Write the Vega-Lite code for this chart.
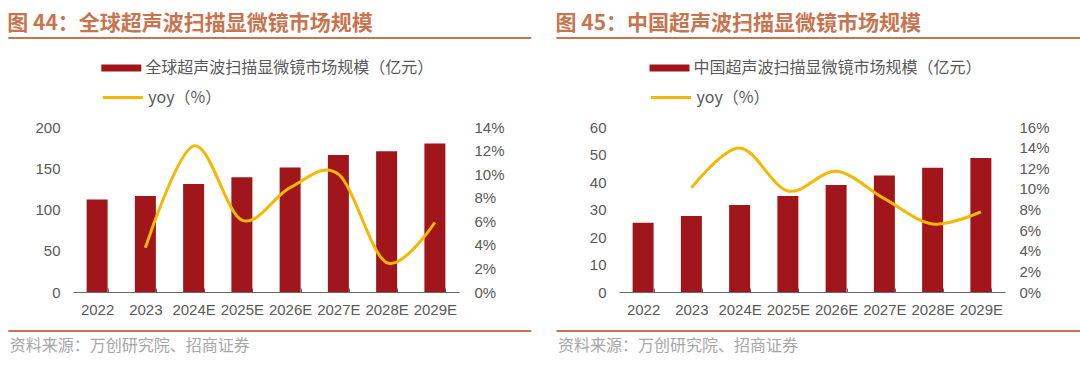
{
  "$schema": "https://vega.github.io/schema/vega-lite/v6.json",
  "background": "white",
  "padding": {"left": 7, "top": 13, "right": 0, "bottom": 8},
  "config": {
    "view": {"stroke": null},
    "axis": {"labelFont": "Liberation Sans", "labelFontSize": 15, "labelColor": "#595959", "grid": false, "title": null},
    "legend": {"labelLimit": 0, "padding": 0},
    "title": {"font": "Noto Sans CJK SC", "fontSize": 21, "fontWeight": "bold", "color": "#C8744F", "anchor": "start", "frame": "bounds", "offset": 3}
  },
  "datasets": {
    "global": [
      {"year": "2022", "value": 112, "yoy": null},
      {"year": "2023", "value": 116.4, "yoy": 0.0376},
      {"year": "2024E", "value": 131, "yoy": 0.124},
      {"year": "2025E", "value": 139, "yoy": 0.061},
      {"year": "2026E", "value": 151, "yoy": 0.0885},
      {"year": "2027E", "value": 166, "yoy": 0.1},
      {"year": "2028E", "value": 170.5, "yoy": 0.025},
      {"year": "2029E", "value": 180, "yoy": 0.059}
    ],
    "china": [
      {"year": "2022", "value": 25.2, "yoy": null},
      {"year": "2023", "value": 27.6, "yoy": 0.101},
      {"year": "2024E", "value": 31.6, "yoy": 0.1396},
      {"year": "2025E", "value": 34.9, "yoy": 0.098},
      {"year": "2026E", "value": 38.9, "yoy": 0.117},
      {"year": "2027E", "value": 42.4, "yoy": 0.0905},
      {"year": "2028E", "value": 45.2, "yoy": 0.066},
      {"year": "2029E", "value": 48.7, "yoy": 0.0776}
    ],
    "lines": [
      {"kind": "header", "x0": 0, "x1": 1, "y": 1},
      {"kind": "footer", "x0": 0, "x1": 1, "y": 0}
    ],
    "source": [
      {"x": 0, "y": 0, "text": "资料来源：万创研究院、招商证券"}
    ]
  },
  "hconcat": [
    {
      "title": "图 44：全球超声波扫描显微镜市场规模",
      "width": 386,
      "height": 165,
      "layer": [
        {
          "data": {"name": "global"},
          "layer": [
            {
              "mark": {"type": "bar"},
              "encoding": {
                "x": {"field": "year", "type": "ordinal", "sort": null,
                  "scale": {"paddingInner": 0.565, "paddingOuter": 0.2825},
                  "axis": {"labelAngle": 0, "domainColor": "#666666", "tickColor": "#666666", "tickSize": -4, "tickBand": "extent", "labelPadding": 14, "domainWidth": 1}},
                "y": {"field": "value", "type": "quantitative",
                  "scale": {"domain": [0, 200], "nice": false},
                  "axis": {"values": [0, 50, 100, 150, 200], "domain": false, "ticks": false, "labelPadding": 13}},
                "fill": {"datum": "全球超声波扫描显微镜市场规模（亿元）",
                  "scale": {"range": ["#A0161A"]},
                  "legend": {"orient": "none", "legendX": 28.3, "legendY": -79, "title": null, "symbolType": "M-1,-0.18H1V0.18H-1Z", "symbolSize": 1600, "symbolStrokeWidth": 0, "symbolOpacity": 1, "labelFont": "Noto Sans CJK SC", "labelFontSize": 16, "labelColor": "#595959", "labelOffset": 4}}
              }
            },
            {
              "transform": [{"filter": "datum.yoy != null"}],
              "mark": {"type": "line", "interpolate": "cardinal", "strokeWidth": 3},
              "encoding": {
                "x": {"field": "year", "type": "ordinal", "sort": null},
                "y": {"field": "yoy", "type": "quantitative",
                  "scale": {"domain": [0, 0.14], "nice": false},
                  "axis": {"orient": "right", "values": [0, 0.02, 0.04, 0.06, 0.08, 0.1, 0.12, 0.14], "format": ".0%", "domain": false, "ticks": false, "labelPadding": 15}},
                "stroke": {"datum": "yoy（%）",
                  "scale": {"range": ["#F5B700"]},
                  "legend": {"orient": "none", "legendX": 28.3, "legendY": -51, "title": null, "symbolType": "stroke", "symbolSize": 1600, "symbolStrokeWidth": 3, "labelFont": "Noto Sans CJK SC", "labelFontSize": 16, "labelColor": "#595959", "labelOffset": 4}}
              }
            }
          ],
          "resolve": {"scale": {"y": "independent"}}
        },
        {
          "layer": [
            {
              "data": {"name": "lines"},
              "mark": {"type": "rule", "color": "#C8744F", "strokeWidth": 2},
              "encoding": {
                "x": {"field": "x0", "type": "quantitative", "scale": {"domain": [0, 1], "range": [-64.7, 458.3]}, "axis": null},
                "x2": {"field": "x1"},
                "y": {"field": "y", "type": "quantitative", "scale": {"domain": [0, 1], "range": [204, -89]}, "axis": null}
              }
            },
            {
              "data": {"name": "source"},
              "mark": {"type": "text", "align": "left", "baseline": "middle", "dx": 1.5, "dy": 15, "font": "Noto Sans CJK SC", "fontSize": 16, "color": "#A6A6A6"},
              "encoding": {
                "x": {"field": "x", "type": "quantitative", "scale": {"domain": [0, 1], "range": [-64.7, 458.3]}, "axis": null},
                "y": {"field": "y", "type": "quantitative", "scale": {"domain": [0, 1], "range": [204, -89]}, "axis": null},
                "text": {"field": "text"}
              }
            }
          ]
        }
      ],
      "resolve": {"scale": {"x": "independent", "y": "independent"}}
    },
    {
      "title": "图 45：中国超声波扫描显微镜市场规模",
      "width": 386,
      "height": 165,
      "layer": [
        {
          "data": {"name": "china"},
          "layer": [
            {
              "mark": {"type": "bar"},
              "encoding": {
                "x": {"field": "year", "type": "ordinal", "sort": null,
                  "scale": {"paddingInner": 0.565, "paddingOuter": 0.2825},
                  "axis": {"labelAngle": 0, "domainColor": "#666666", "tickColor": "#666666", "tickSize": -4, "tickBand": "extent", "labelPadding": 14, "domainWidth": 1}},
                "y": {"field": "value", "type": "quantitative",
                  "scale": {"domain": [0, 60], "nice": false},
                  "axis": {"values": [0, 10, 20, 30, 40, 50, 60], "domain": false, "ticks": false, "labelPadding": 13}},
                "fill": {"datum": "中国超声波扫描显微镜市场规模（亿元）",
                  "scale": {"range": ["#A0161A"]},
                  "legend": {"orient": "none", "legendX": 30.5, "legendY": -79, "title": null, "symbolType": "M-1,-0.18H1V0.18H-1Z", "symbolSize": 1600, "symbolStrokeWidth": 0, "symbolOpacity": 1, "labelFont": "Noto Sans CJK SC", "labelFontSize": 16, "labelColor": "#595959", "labelOffset": 4}}
              }
            },
            {
              "transform": [{"filter": "datum.yoy != null"}],
              "mark": {"type": "line", "interpolate": "cardinal", "strokeWidth": 3},
              "encoding": {
                "x": {"field": "year", "type": "ordinal", "sort": null},
                "y": {"field": "yoy", "type": "quantitative",
                  "scale": {"domain": [0, 0.16], "nice": false},
                  "axis": {"orient": "right", "values": [0, 0.02, 0.04, 0.06, 0.08, 0.1, 0.12, 0.14, 0.16], "format": ".0%", "domain": false, "ticks": false, "labelPadding": 14}},
                "stroke": {"datum": "yoy（%）",
                  "scale": {"range": ["#F5B700"]},
                  "legend": {"orient": "none", "legendX": 30.5, "legendY": -51, "title": null, "symbolType": "stroke", "symbolSize": 1600, "symbolStrokeWidth": 3, "labelFont": "Noto Sans CJK SC", "labelFontSize": 16, "labelColor": "#595959", "labelOffset": 4}}
              }
            }
          ],
          "resolve": {"scale": {"y": "independent"}}
        },
        {
          "layer": [
            {
              "data": {"name": "lines"},
              "mark": {"type": "rule", "color": "#C8744F", "strokeWidth": 2},
              "encoding": {
                "x": {"field": "x0", "type": "quantitative", "scale": {"domain": [0, 1], "range": [-62.5, 461]}, "axis": null},
                "x2": {"field": "x1"},
                "y": {"field": "y", "type": "quantitative", "scale": {"domain": [0, 1], "range": [204, -89]}, "axis": null}
              }
            },
            {
              "data": {"name": "source"},
              "mark": {"type": "text", "align": "left", "baseline": "middle", "dx": 1.5, "dy": 15, "font": "Noto Sans CJK SC", "fontSize": 16, "color": "#A6A6A6"},
              "encoding": {
                "x": {"field": "x", "type": "quantitative", "scale": {"domain": [0, 1], "range": [-62.5, 461]}, "axis": null},
                "y": {"field": "y", "type": "quantitative", "scale": {"domain": [0, 1], "range": [204, -89]}, "axis": null},
                "text": {"field": "text"}
              }
            }
          ]
        }
      ],
      "resolve": {"scale": {"x": "independent", "y": "independent"}}
    }
  ],
  "spacing": 22,
  "resolve": {"scale": {"x": "independent", "y": "independent", "fill": "independent", "stroke": "independent"}, "legend": {"fill": "independent", "stroke": "independent"}}
}
